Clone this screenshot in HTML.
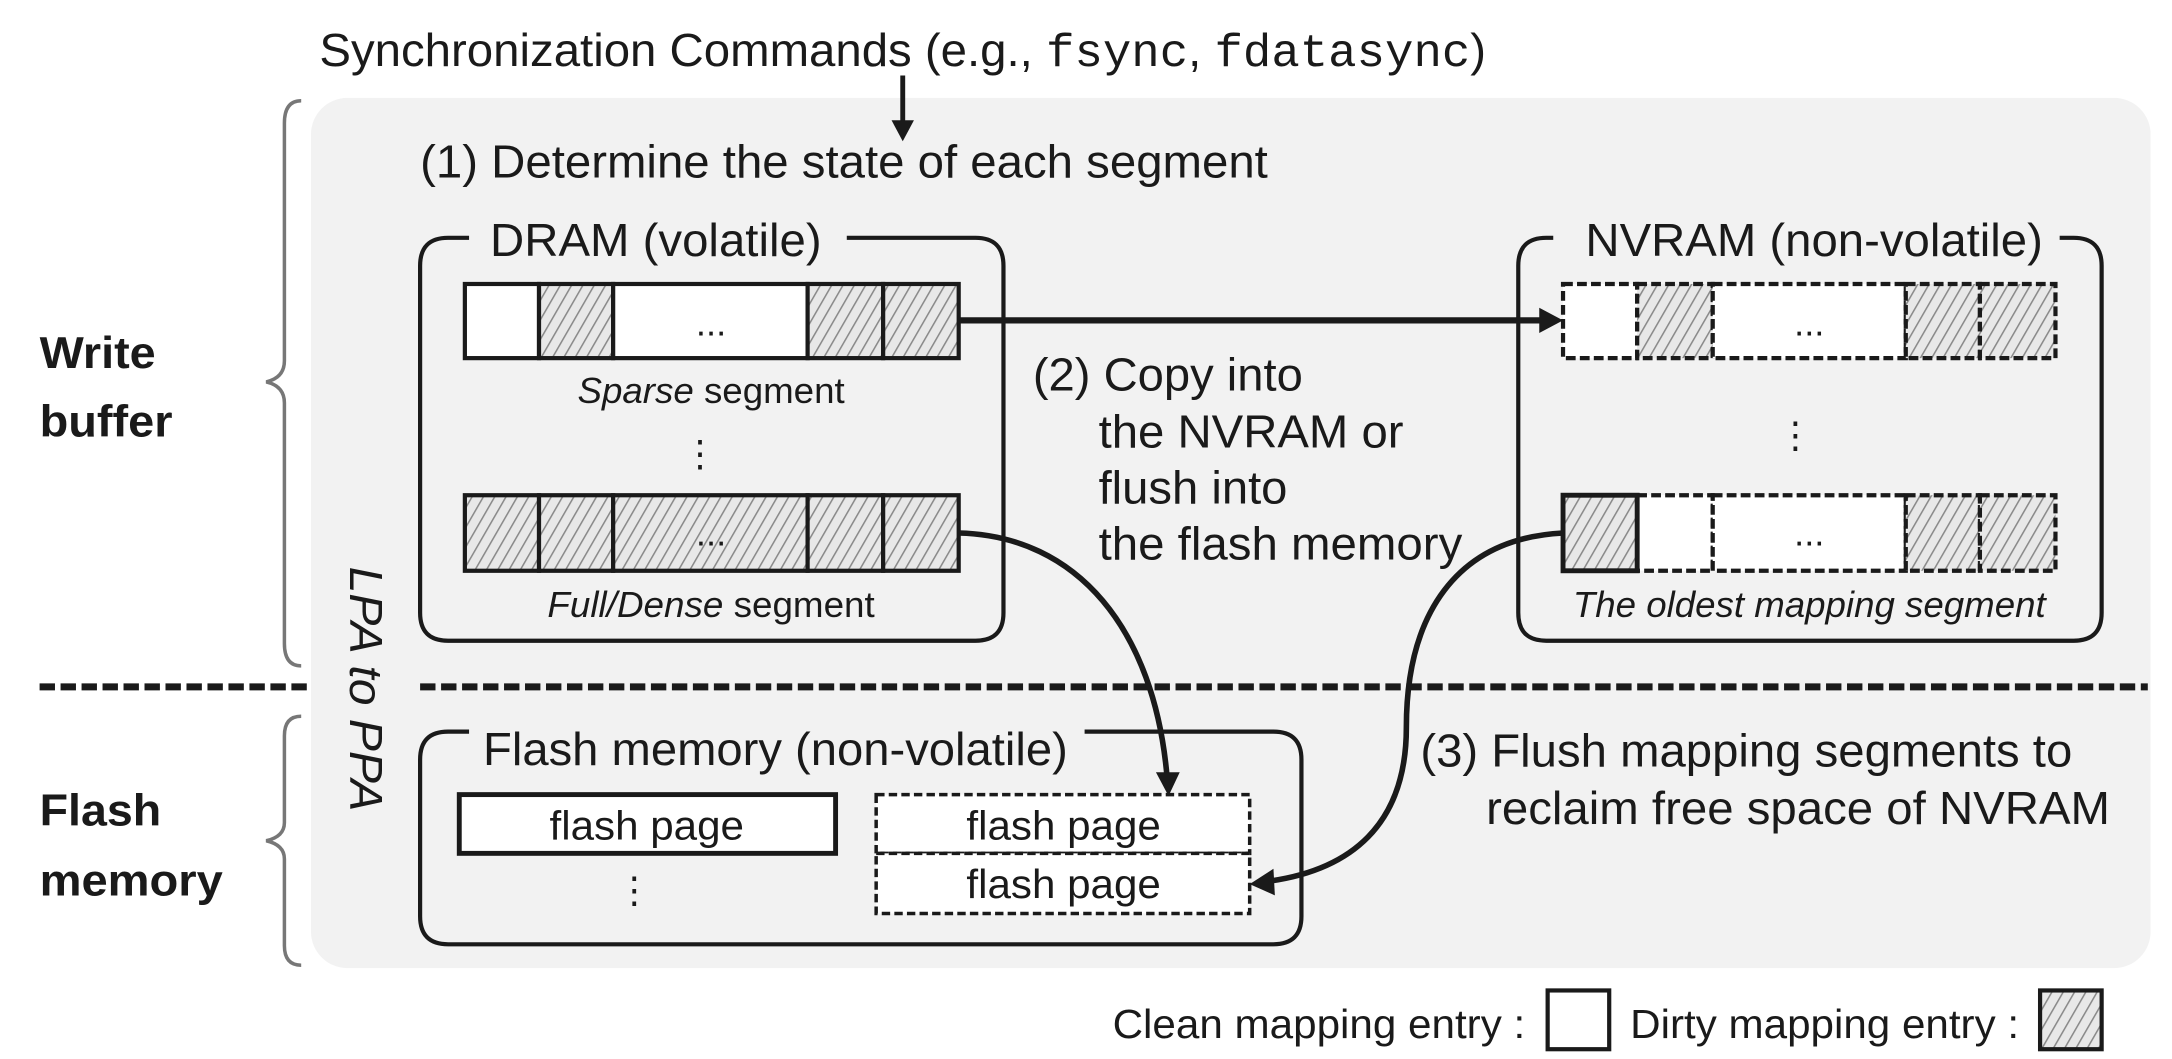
<!DOCTYPE html>
<html><head><meta charset="utf-8"><style>
html,body{margin:0;padding:0;background:#fff;}
svg{display:block;}
text{font-family:"Liberation Sans",Arial,sans-serif;fill:#1a1a1a;}
</style></head><body>
<svg width="2172" height="1059" viewBox="0 0 1552 757" xmlns="http://www.w3.org/2000/svg">
<defs>
<pattern id="h" width="7" height="7" patternUnits="userSpaceOnUse" patternTransform="rotate(30)">
<rect width="7" height="7" fill="#e8e8e8"/>
<line x1="0" y1="0" x2="0" y2="7" stroke="#8a8a8a" stroke-width="2.2"/>
</pattern>
</defs>

<rect x="222" y="70" width="1315" height="622" rx="26" fill="#f2f2f2"/>

<text x="228" y="47" font-size="33" textLength="834" lengthAdjust="spacingAndGlyphs">Synchronization Commands (e.g., <tspan font-family="Liberation Mono,monospace">fsync</tspan>, <tspan font-family="Liberation Mono,monospace">fdatasync</tspan>)</text>
<line x1="645" y1="54" x2="645" y2="90" stroke="#1a1a1a" stroke-width="3.5"/>
<path d="M637,86 L653,86 L645,101 Z" fill="#1a1a1a"/>

<text x="300" y="127" font-size="33" textLength="606" lengthAdjust="spacingAndGlyphs">(1) Determine the state of each segment</text>

<path d="M215,72 Q203,72 203,88 L203,258 Q203,270 190,273 Q203,276 203,288 L203,460 Q203,476 215,476" fill="none" stroke="#777" stroke-width="2.5"/>
<path d="M215,512 Q203,512 203,526 L203,588 Q203,598 190,601 Q203,604 203,614 L203,676 Q203,690 215,690" fill="none" stroke="#777" stroke-width="2.5"/>
<text x="28" y="263" font-size="32" font-weight="bold" textLength="83" lengthAdjust="spacingAndGlyphs">Write</text>
<text x="28" y="312" font-size="32" font-weight="bold" textLength="95" lengthAdjust="spacingAndGlyphs">buffer</text>
<text x="28" y="590" font-size="32" font-weight="bold" textLength="87" lengthAdjust="spacingAndGlyphs">Flash</text>
<text x="28" y="640" font-size="32" font-weight="bold" textLength="131" lengthAdjust="spacingAndGlyphs">memory</text>

<line x1="28" y1="491" x2="222" y2="491" stroke="#1a1a1a" stroke-width="5" stroke-dasharray="11,4"/>
<line x1="300" y1="491" x2="1535" y2="491" stroke="#1a1a1a" stroke-width="5" stroke-dasharray="11,4"/>

<text transform="translate(250,405) rotate(90)" font-size="33" font-style="italic" textLength="175" lengthAdjust="spacingAndGlyphs">LPA to PPA</text>

<path d="M335,170 L320,170 Q300,170 300,190 L300,438 Q300,458 320,458 L697,458 Q717,458 717,438 L717,190 Q717,170 697,170 L605,170" fill="none" stroke="#1a1a1a" stroke-width="3"/>
<text x="350" y="183" font-size="33" textLength="237" lengthAdjust="spacingAndGlyphs">DRAM (volatile)</text>

<g stroke="#1a1a1a" stroke-width="3">
<rect x="332" y="203" width="53" height="53" fill="#fff"/>
<rect x="385" y="203" width="53" height="53" fill="url(#h)"/>
<rect x="438" y="203" width="139" height="53" fill="#fff"/>
<rect x="577" y="203" width="54" height="53" fill="url(#h)"/>
<rect x="631" y="203" width="54" height="53" fill="url(#h)"/>
</g>
<text x="508" y="240" font-size="26" text-anchor="middle">...</text>
<text x="508" y="288" font-size="26" text-anchor="middle" textLength="191" lengthAdjust="spacingAndGlyphs"><tspan font-style="italic">Sparse</tspan> segment</text>
<text x="500" y="333" font-size="26" text-anchor="middle">⋮</text>

<g stroke="#1a1a1a" stroke-width="3">
<rect x="332" y="354" width="53" height="54" fill="url(#h)"/>
<rect x="385" y="354" width="53" height="54" fill="url(#h)"/>
<rect x="438" y="354" width="139" height="54" fill="url(#h)"/>
<rect x="577" y="354" width="54" height="54" fill="url(#h)"/>
<rect x="631" y="354" width="54" height="54" fill="url(#h)"/>
</g>
<text x="508" y="390" font-size="26" text-anchor="middle" fill="#555">...</text>
<text x="508" y="441" font-size="26" text-anchor="middle" textLength="234" lengthAdjust="spacingAndGlyphs"><tspan font-style="italic">Full/Dense</tspan> segment</text>

<line x1="685" y1="229" x2="1104" y2="229" stroke="#1a1a1a" stroke-width="4.5"/>
<path d="M1100,220 L1117,229 L1100,238 Z" fill="#1a1a1a"/>

<text x="738" y="279" font-size="33" textLength="193" lengthAdjust="spacingAndGlyphs">(2) Copy into</text>
<text x="785" y="320" font-size="33" textLength="218" lengthAdjust="spacingAndGlyphs">the NVRAM or</text>
<text x="785" y="360" font-size="33" textLength="135" lengthAdjust="spacingAndGlyphs">flush into</text>
<text x="785" y="400" font-size="33" textLength="260" lengthAdjust="spacingAndGlyphs">the flash memory</text>

<path d="M1110,170 L1105,170 Q1085,170 1085,190 L1085,438 Q1085,458 1105,458 L1482,458 Q1502,458 1502,438 L1502,190 Q1502,170 1482,170 L1472,170" fill="none" stroke="#1a1a1a" stroke-width="3"/>
<text x="1133" y="183" font-size="33" textLength="327" lengthAdjust="spacingAndGlyphs">NVRAM (non-volatile)</text>

<g stroke="#1a1a1a" stroke-width="3" stroke-dasharray="7,3">
<rect x="1117" y="203" width="53" height="53" fill="#fff"/>
<rect x="1170" y="203" width="54" height="53" fill="url(#h)"/>
<rect x="1224" y="203" width="138" height="53" fill="#fff"/>
<rect x="1362" y="203" width="53" height="53" fill="url(#h)"/>
<rect x="1415" y="203" width="54" height="53" fill="url(#h)"/>
</g>
<text x="1293" y="240" font-size="26" text-anchor="middle">...</text>
<text x="1283" y="320" font-size="26" text-anchor="middle">⋮</text>
<g stroke="#1a1a1a" stroke-width="3" stroke-dasharray="7,3">
<rect x="1170" y="354" width="54" height="54" fill="#fff"/>
<rect x="1224" y="354" width="138" height="54" fill="#fff"/>
<rect x="1362" y="354" width="53" height="54" fill="url(#h)"/>
<rect x="1415" y="354" width="54" height="54" fill="url(#h)"/>
</g>
<rect x="1117" y="354" width="53" height="54" fill="url(#h)" stroke="#1a1a1a" stroke-width="3.5"/>
<text x="1293" y="390" font-size="26" text-anchor="middle">...</text>
<text x="1293" y="441" font-size="26" text-anchor="middle" font-style="italic" textLength="338" lengthAdjust="spacingAndGlyphs">The oldest mapping segment</text>

<path d="M335,523 L320,523 Q300,523 300,543 L300,655 Q300,675 320,675 L910,675 Q930,675 930,655 L930,543 Q930,523 910,523 L775,523" fill="none" stroke="#1a1a1a" stroke-width="3"/>
<text x="345" y="547" font-size="33" textLength="418" lengthAdjust="spacingAndGlyphs">Flash memory (non-volatile)</text>

<rect x="328" y="568" width="269" height="42" fill="#fff" stroke="#1a1a1a" stroke-width="3.5"/>
<text x="462" y="600" font-size="29" text-anchor="middle" textLength="139" lengthAdjust="spacingAndGlyphs">flash page</text>
<text x="453" y="645" font-size="26" text-anchor="middle">⋮</text>
<g stroke="#1a1a1a" stroke-width="2.5" stroke-dasharray="6,3" fill="#fff">
<rect x="626" y="568" width="267" height="42"/>
<rect x="626" y="610" width="267" height="43"/>
</g>
<text x="760" y="600" font-size="29" text-anchor="middle" textLength="139" lengthAdjust="spacingAndGlyphs">flash page</text>
<text x="760" y="642" font-size="29" text-anchor="middle" textLength="139" lengthAdjust="spacingAndGlyphs">flash page</text>

<path d="M685,381 C770,383 825,450 834,556" fill="none" stroke="#1a1a1a" stroke-width="4"/>
<path d="M826,552 L843,552 L835,569 Z" fill="#1a1a1a"/>
<path d="M1117,381 C1040,385 1005,440 1005,520 C1005,590 965,622 906,630" fill="none" stroke="#1a1a1a" stroke-width="4"/>
<path d="M910,621 L893,632 L911,640 Z" fill="#1a1a1a"/>

<text x="1015" y="548" font-size="33" textLength="466" lengthAdjust="spacingAndGlyphs">(3) Flush mapping segments to</text>
<text x="1062" y="589" font-size="33" textLength="446" lengthAdjust="spacingAndGlyphs">reclaim free space of NVRAM</text>

<text x="795" y="742" font-size="29" textLength="295" lengthAdjust="spacingAndGlyphs">Clean mapping entry :</text>
<rect x="1106" y="708" width="44" height="42" fill="#fff" stroke="#1a1a1a" stroke-width="3"/>
<text x="1165" y="742" font-size="29" textLength="278" lengthAdjust="spacingAndGlyphs">Dirty mapping entry :</text>
<rect x="1458" y="708" width="44" height="42" fill="url(#h)" stroke="#1a1a1a" stroke-width="3"/>
</svg>
</body></html>
